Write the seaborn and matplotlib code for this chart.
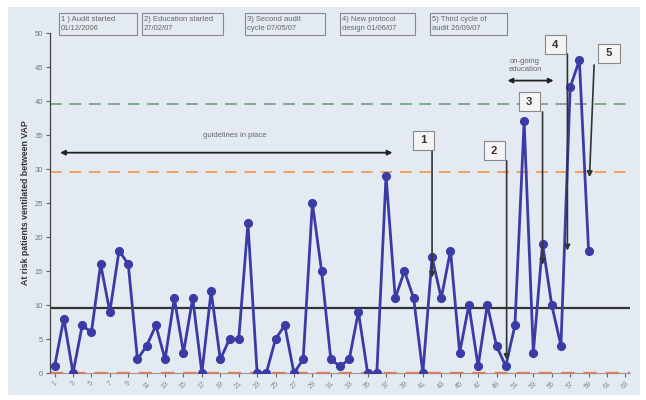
import numpy as np
import pandas as pd
import seaborn as sns
import matplotlib.pyplot as plt
from matplotlib.patches import Rectangle

# --------------------------------------------------------
# VAP control chart: at-risk patients ventilated between VAP cases
# --------------------------------------------------------

samples = list(range(1, 60))
vap_gap = [1, 8, 0, 7, 6, 16, 9, 18, 16, 2,
           4, 7, 2, 11, 3, 11, 0, 12, 2, 5,
           5, 22, 0, 0, 5, 7, 0, 2, 25, 15,
           2, 1, 2, 9, 0, 0, 29, 11, 15, 11,
           0, 17, 11, 18, 3, 10, 1, 10, 4, 1,
           7, 37, 3, 19, 10, 4, 42, 46, 18]
mean_line = 9.6
ucl_line = 29.6
upper_line = 39.6
lcl_line = 0.0

x_ticks = list(range(1, 64, 2))
y_ticks = list(range(0, 51, 5))

event_labels = ['1', '2', '3', '4', '5']
event_box_xy = [(41.1, 34.2), (48.8, 32.7), (52.6, 39.9), (55.4, 48.3), (61.2, 47.0)]
event_start = [(42.0, 32.6), (50.1, 31.2), (54.0, 38.4), (56.7, 46.9), (59.6, 45.3)]
event_tip = [(42.0, 14.0), (50.1, 1.9), (54.0, 15.9), (56.7, 18.0), (59.1, 28.8)]

header_texts = ['1 ) Audit started\n01/12/2006', '2) Education started\n27/02/07',
                '3) Second audit\ncycle 07/05/07', '4) New protocol\ndesign 01/06/07',
                '5) Third cycle of\naudit 26/09/07']
header_x = [(59, 137), (142, 223), (245, 325), (340, 415), (430, 507)]

data = pd.DataFrame({'sample': samples, 'gap': vap_gap})

W, H = 646, 400
fig = plt.figure(figsize=(W / 100, H / 100), dpi=100)
fig.patch.set_facecolor('white')
plt.rcParams['font.family'] = ['Liberation Sans', 'DejaVu Sans']

bg = '#e3eaf1'
fig.patches.append(Rectangle((8 / W, 5 / H), 632 / W, 388 / H, transform=fig.transFigure,
                             facecolor=bg, edgecolor='none', zorder=-5))

ax = fig.add_axes([50 / W, 27 / H, 580 / W, 340 / H])
ax.set_facecolor('none')
ax.set_zorder(1)

# control lines
ax.axhline(mean_line, color='#333333', lw=1.6, zorder=2)
ax.axhline(ucl_line, color='#f0a060', lw=1.4, dashes=(6, 4), zorder=2)
ax.axhline(upper_line, color='#7fa98a', lw=1.4, dashes=(6, 4), zorder=2)
ax.axhline(lcl_line, color='#ff6a30', lw=1.6, dashes=(6, 4), zorder=2, clip_on=False)

sns.lineplot(data=data, x='sample', y='gap', ax=ax, color='#3b3ba6', lw=2.0,
             marker='o', markersize=5.8, markeredgecolor='#3b3ba6', zorder=3)

ax.set_xlim(0.5, 63.5)
ax.set_ylim(0, 50)
ax.set_xticks(x_ticks)
ax.set_xticklabels([str(t) for t in x_ticks], rotation=45, fontsize=5, color='#888888')
ax.set_yticks(y_ticks)
ax.set_yticklabels([str(t) for t in y_ticks], fontsize=5.5, color='#777777')
ax.tick_params(axis='both', length=3, width=0.8, color='#666666', pad=2)
ax.set_xlabel('')
ax.set_ylabel('At risk patients ventilated between VAP', fontsize=6.3,
              fontweight='bold', color='#333333', labelpad=3)
for s in ['top', 'right']:
    ax.spines[s].set_visible(False)
ax.spines['left'].set_color('#444444')
ax.spines['bottom'].set_color('#999999')
ax.spines['left'].set_linewidth(0.9)

# guidelines arrow
ax.annotate('', xy=(1.6, 32.4), xytext=(37.7, 32.4),
            arrowprops=dict(arrowstyle='<|-|>', color='#222222', lw=1.3,
                            mutation_scale=7, shrinkA=0, shrinkB=0))
ax.text(20.6, 34.9, 'guidelines in place', fontsize=5.5, color='#666666',
        ha='center', va='center')

# on-going education arrow
ax.annotate('', xy=(50.2, 43.0), xytext=(55.2, 43.0),
            arrowprops=dict(arrowstyle='<|-|>', color='#222222', lw=1.3,
                            mutation_scale=7, shrinkA=0, shrinkB=0))
ax.text(52.1, 45.2, 'on-going\neducation', fontsize=5.5, color='#666666',
        ha='center', va='center', linespacing=1.3)

# numbered event markers
for lab, bxy, st, tip in zip(event_labels, event_box_xy, event_start, event_tip):
    ax.annotate('', xy=tip, xytext=st,
                arrowprops=dict(arrowstyle='-|>', color='#333333', lw=1.2,
                                mutation_scale=8, shrinkA=0, shrinkB=0), zorder=4)
    ax.text(bxy[0], bxy[1], ' ' + lab + ' ', fontsize=8, fontweight='bold', color='#333333',
            ha='center', va='center', zorder=5,
            bbox=dict(boxstyle='square,pad=0.4', facecolor='#f4f4f4', edgecolor='#888888', lw=0.8))

# header boxes
for txt, (x0, x1) in zip(header_texts, header_x):
    fig.patches.append(Rectangle((x0 / W, 1 - 35 / H), (x1 - x0) / W, 22 / H,
                                 transform=fig.transFigure, facecolor='none',
                                 edgecolor='#888888', lw=0.8, zorder=5))
    fig.text((x0 + 2) / W, 1 - 24 / H, txt, fontsize=5.5, color='#666666',
             ha='left', va='center', linespacing=1.25)

fig.savefig('out.png', dpi=100, facecolor=fig.get_facecolor())
